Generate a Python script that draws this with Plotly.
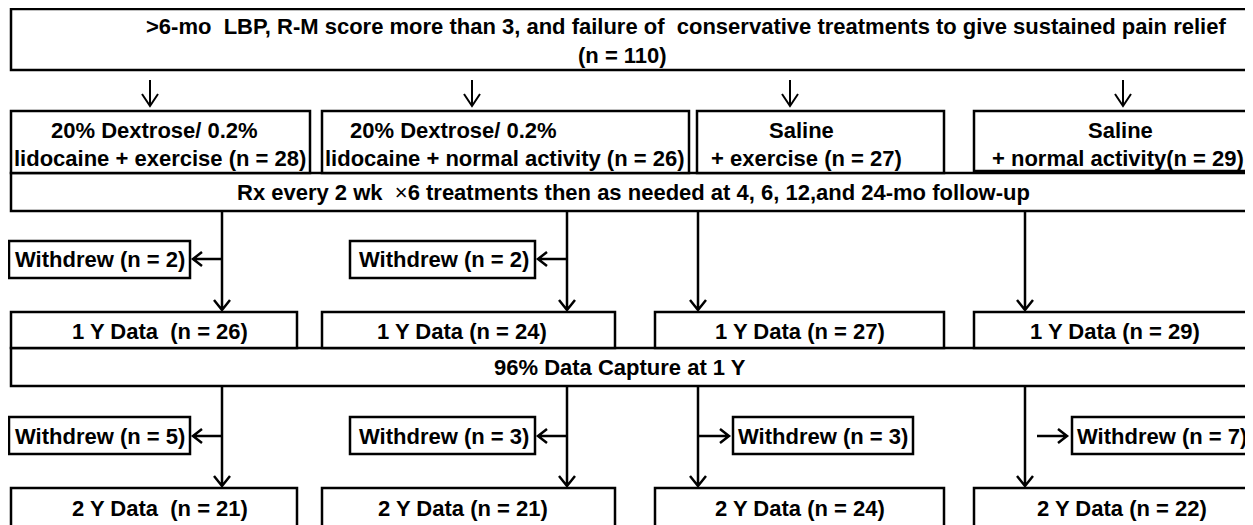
import plotly.graph_objects as go

# texts and counts
top_lines = [
    ">6-mo\u00a0 LBP, R-M score more than 3, and failure of\u00a0 conservative treatments to give sustained pain relief",
    "(n = 110)",
]
group_line1 = ["20% Dextrose/ 0.2%", "20% Dextrose/ 0.2%", "Saline", "Saline"]
group_line2 = [
    "lidocaine + exercise (n = 28)",
    "lidocaine + normal activity (n = 26)",
    "+ exercise (n = 27)",
    "+ normal activity(n = 29)",
]
rx_text = ("Rx every 2 wk\u00a0 <span style='font-weight:normal'>×</span>6 treatments "
           "then as needed at 4, 6, 12,and 24-mo follow-up")
withdrew_1y = [2, 2, None, None]
data_1y = [26, 24, 27, 29]
capture_text = "96% Data Capture at 1 Y"
withdrew_2y = [5, 3, 3, 7]
data_2y = [21, 21, 24, 22]

# layout (pixel coordinates of the 1253 x 525 page)
W, H = 1253, 525
OFF = 8  # page body margin, axes are shifted so data units equal page pixels
col_x0 = [11, 322, 655, 974]
col_x1 = [297, 615, 944, 1266]
grp_x0 = [11, 322, 697, 974]
grp_x1 = [310, 689, 944, 1266]
line_x = [222, 567, 698, 1025]
top_arrow_x = [150, 472, 790, 1123]
wd_box = [(9, 190), (350, 535), (733, 913), (1072, 1266)]
wd_side = ["left", "left", "right", "right"]
l1_x = [154, 348, 801, 1120]
l1_anchor = ["center", "left", "center", "center"]
l2_x = [160, 504, 806, 1118]
y1_text_x = [160, 462, 800, 1115]
y2_text_x = [160, 463, 800, 1122]
wd_text_x = [100, 444, 823, 1162]

FONT = dict(family="Liberation Sans, Arial", size=22, color="black", weight="bold")
LW = 2.5

shapes = []
annotations = []


def box(x0, y0, x1, y1):
    shapes.append(dict(type="rect", xref="x", yref="y", x0=x0, x1=x1, y0=y0, y1=y1,
                       line=dict(color="black", width=LW), fillcolor="white", layer="below"))


def label(x, y, text, anchor="center"):
    annotations.append(dict(x=x, y=y, xref="x", yref="y", text=text, showarrow=False,
                            xanchor=anchor, yanchor="middle", font=FONT))


def path(d, width=LW):
    shapes.append(dict(type="path", xref="x", yref="y", path=d,
                       line=dict(color="black", width=width)))


def down(x, y0, y1, hw=8, hh=10, width=LW):
    path(f"M{x},{y0} L{x},{y1} M{x - hw},{y1 - hh} L{x},{y1} L{x + hw},{y1 - hh}", width)


def horiz(x0, x1, y, hw=7, hh=9):
    s = 1 if x1 > x0 else -1
    path(f"M{x0},{y} L{x1},{y} M{x1 - s * hh},{y - hw} L{x1},{y} L{x1 - s * hh},{y + hw}")


# wide boxes
box(11, 9, 1266, 70)
box(11, 173, 1266, 211)
box(11, 348, 1266, 386)
label(686, 26, top_lines[0])
label(622, 55, top_lines[1])
label(633, 192, rx_text)
label(620, 367, capture_text)

for i in range(4):
    # arrows from top box
    down(top_arrow_x[i], 80, 106, hw=8, hh=12, width=2)
    # group boxes
    box(grp_x0[i], 111, grp_x1[i], 173 if i < 3 else 171)
    label(l1_x[i], 130, group_line1[i], l1_anchor[i])
    label(l2_x[i], 158, group_line2[i])

    # 1 year
    down(line_x[i], 211, 310)
    box(col_x0[i], 312, col_x1[i], 348)
    label(y1_text_x[i], 331, f"1 Y Data{'\u00a0' if i == 0 else ''} (n = {data_1y[i]})")

    if withdrew_1y[i] is not None:
        bx0, bx1 = wd_box[i]
        box(bx0, 241, bx1, 278)
        horiz(line_x[i], bx1 + 3, 259)
        label(wd_text_x[i], 259, f"Withdrew (n = {withdrew_1y[i]})")

    # 2 years
    down(line_x[i], 386, 486)
    box(col_x0[i], 488, col_x1[i], 540)
    label(y2_text_x[i], 508, f"2 Y Data{'\u00a0' if i == 0 else ''} (n = {data_2y[i]})")

    bx0, bx1 = wd_box[i]
    box(bx0, 417, bx1, 454)
    if wd_side[i] == "left":
        horiz(line_x[i], bx1 + 3, 436)
    elif i == 2:
        horiz(line_x[i], bx0 - 4, 436)
    else:
        horiz(line_x[i] + 12, bx0 - 5, 436)
    label(wd_text_x[i], 436, f"Withdrew (n = {withdrew_2y[i]})")

fig = go.Figure()
fig.add_trace(go.Scatter(x=[OFF, W + OFF], y=[OFF, H + OFF], mode="markers",
                         marker=dict(opacity=0), hoverinfo="skip", showlegend=False))
fig.update_layout(
    width=W, height=H,
    margin=dict(l=0, r=0, t=0, b=0),
    paper_bgcolor="white", plot_bgcolor="white",
    xaxis=dict(range=[OFF, W + OFF], visible=False, fixedrange=True),
    yaxis=dict(range=[H + OFF, OFF], visible=False, fixedrange=True),
    shapes=shapes, annotations=annotations,
)
fig.write_html("out.html")
